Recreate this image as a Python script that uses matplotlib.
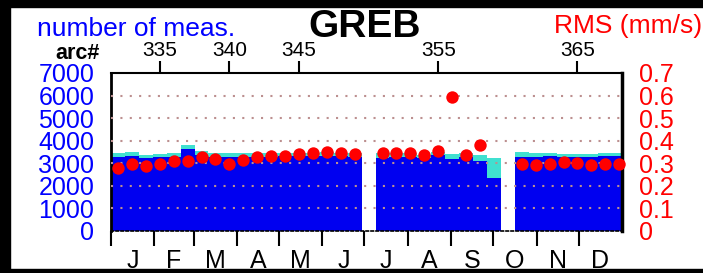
import numpy as np
import matplotlib
matplotlib.use("Agg")
import matplotlib.pyplot as plt
from matplotlib.patches import Rectangle

plt.rcParams['font.family'] = ['Liberation Sans', 'DejaVu Sans']

# ---------------- data ----------------
arcs = [332, 333, 334, 335, 336, 337, 338, 339, 340, 341, 342, 343, 344, 345, 346, 347, 348, 349,
        351, 352, 353, 354, 355, 356, 357, 358, 359,
        361, 362, 363, 364, 365, 366, 367, 368]
n_used = [3290, 3320, 3220, 3260, 3290, 3620, 3370, 3290, 3260, 3280, 3300, 3300, 3320, 3310, 3330, 3340, 3320, 3300,
          3220, 3260, 3290, 3220, 3350, 3205, 3260, 3115, 2335,
          3290, 3290, 3320, 3260, 3260, 3260, 3320, 3320]
n_total = [3470, 3500, 3370, 3410, 3440, 3825, 3545, 3470, 3440, 3440, 3470, 3450, 3460, 3450, 3470, 3480, 3460, 3440,
           3470, 3440, 3440, 3380, 3500, 3410, 3440, 3380, 3220,
           3500, 3470, 3440, 3410, 3410, 3410, 3470, 3470]
rms = [0.278, 0.297, 0.289, 0.295, 0.311, 0.309, 0.329, 0.318, 0.297, 0.315, 0.329, 0.334, 0.334, 0.340, 0.344, 0.350, 0.347, 0.341,
       0.344, 0.344, 0.347, 0.337, 0.356, 0.595, 0.337, 0.381, np.nan,
       0.297, 0.292, 0.295, 0.306, 0.303, 0.294, 0.299, 0.299]
arc_ticks = [335, 340, 345, 355, 365]
left_ticks = [0, 1000, 2000, 3000, 4000, 5000, 6000, 7000]
right_ticks = [0, 0.1, 0.2, 0.3, 0.4, 0.5, 0.6, 0.7]
right_labels = ['0', '0.1', '0.2', '0.3', '0.4', '0.5', '0.6', '0.7']
month_starts = [0, 31, 59, 90, 120, 151, 181, 212, 243, 273, 304, 334, 365]
month_labels = ['J', 'F', 'M', 'A', 'M', 'J', 'J', 'A', 'S', 'O', 'N', 'D']

W, H = 703, 273
fig = plt.figure(figsize=(W / 100, H / 100), dpi=100)
fig.patch.set_facecolor('white')

def fx(px):
    return px / W

def fy(py):
    return 1 - py / H

L, R, T, B = 111, 622, 73, 231
ax = fig.add_axes([fx(L), fy(B), fx(R) - fx(L), fy(T) - fy(B)])
axm = ax.twiny()
axr = ax.twinx()

ax.set_xlim(331.5, 368.2)
ax.set_ylim(0, 7000)

ax.bar(arcs, n_total, width=1.0, color='#40E0D0', linewidth=0, zorder=1)
ax.bar(arcs, n_used, width=1.0, color='#0000F0', linewidth=0, zorder=2)
for g in [1000, 2000, 3000, 4000, 5000, 6000]:
    ax.axhline(g, color='#BC8F8F', linestyle=(0, (1, 3.5)), linewidth=1.5, zorder=3)

# top arc ticks
ax.xaxis.set_ticks_position('top')
ax.xaxis.set_label_position('top')
ax.set_xticks(arc_ticks)
ax.set_xticklabels([str(a) for a in arc_ticks], fontsize=15)
ax.tick_params(axis='x', direction='out', length=9, width=1.5, pad=0, colors='black')

# left ticks
ax.yaxis.set_ticks_position('left')
ax.set_yticks(left_ticks)
ax.set_yticklabels([str(v) for v in left_ticks], fontsize=18, color='#0000FF')
ax.tick_params(axis='y', length=0, pad=12)

ax.spines['top'].set_linewidth(1.5)
ax.spines['left'].set_linewidth(2)
ax.spines['right'].set_linewidth(2.5)
ax.spines['bottom'].set_linestyle((0, (1.5, 1.5)))
ax.spines['bottom'].set_linewidth(1.2)

# months (bottom)
axm.set_xlim(0, 365)
axm.xaxis.set_ticks_position('bottom')
axm.xaxis.set_label_position('bottom')
axm.set_xticks(month_starts[:-1])
axm.set_xticklabels([])
axm.tick_params(axis='x', which='major', direction='out', length=11, width=1.5)
mids = [(month_starts[i] + month_starts[i + 1]) / 2 for i in range(12)]
axm.set_xticks(mids, minor=True)
axm.set_xticklabels(month_labels, minor=True, fontsize=18)
axm.tick_params(axis='x', which='minor', length=0, pad=13)
for s in axm.spines.values():
    s.set_visible(False)

# RMS (right)
axr.set_ylim(0, 0.7)
axr.scatter(arcs, rms, s=80, color='#FF0000', linewidths=0, zorder=5, clip_on=False)
axr.yaxis.set_ticks_position('right')
axr.set_yticks(right_ticks)
axr.set_yticklabels(right_labels, fontsize=18, color='#FF0000')
axr.tick_params(axis='y', length=0, pad=12)
for s in axr.spines.values():
    s.set_visible(False)

# titles
fig.text(fx(37), fy(36), 'number of meas.', color='#0000FF', fontsize=19, ha='left', va='baseline')
fig.text(fx(365), fy(37), 'GREB', color='black', fontsize=28, fontweight='bold', ha='center', va='baseline')
fig.text(fx(702), fy(33), 'RMS (mm/s)', color='#FF0000', fontsize=19, ha='right', va='baseline')
fig.text(fx(100), fy(59), 'arc#', color='black', fontsize=15.5, fontweight='bold', ha='right', va='baseline')

# frame
fig.patches.append(Rectangle((0, 0), fx(10), 1, transform=fig.transFigure, color='black', zorder=10))
fig.patches.append(Rectangle((0, fy(7)), 1, 7 / H, transform=fig.transFigure, color='black', zorder=10))
fig.patches.append(Rectangle((0, 0), 1, 4 / H, transform=fig.transFigure, color='black', zorder=10))

fig.savefig('out.png', dpi=100)
